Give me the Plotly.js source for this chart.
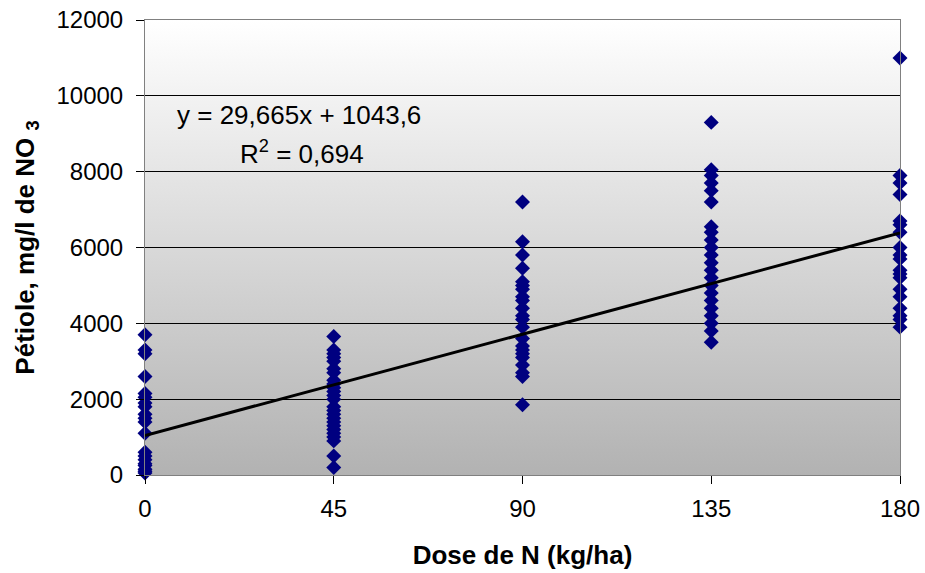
<!DOCTYPE html>
<html>
<head>
<meta charset="utf-8">
<script src="https://cdn.plot.ly/plotly-3.0.1.min.js"></script>
<style>html,body{margin:0;padding:0;background:#fff;}#chart{width:925px;height:573px;}</style>
</head>
<body>
<div id="chart"></div>
<script>
// Doses of N (kg/ha)
const doses = [0, 45, 90, 135, 180];
// Observed petiole NO3 values per dose (mg/l)
const dose0 = [3700, 3300, 3200, 2600, 2150, 2050, 1900, 1800, 1600, 1500, 1400, 1100, 600, 500, 400, 300, 250, 150, 100, 50];
const dose45 = [3650, 3300, 3200, 3100, 3000, 2800, 2700, 2500, 2400, 2300, 2200, 2100, 2000, 1800, 1700, 1600, 1500, 1400, 1300, 1200, 1100, 1000, 900, 500, 200];
const dose90 = [7200, 6150, 5800, 5450, 5100, 5000, 4900, 4700, 4600, 4400, 4200, 4100, 3900, 3600, 3400, 3300, 3200, 3100, 2900, 2700, 2600, 1850];
const dose135 = [9300, 8050, 7900, 7700, 7500, 7200, 6550, 6400, 6200, 6000, 5800, 5600, 5400, 5200, 5000, 4800, 4600, 4400, 4200, 4000, 3800, 3500];
const dose180 = [11000, 7900, 7700, 7400, 6700, 6600, 6400, 6000, 5800, 5700, 5400, 5300, 5200, 4900, 4700, 4400, 4200, 4100, 3900];
// Linear trend coefficients
const slope = 29.665;
const intercept = 1043.6;
const r2Text = "0,694";
const eqText = "y = 29,665x + 1043,6";
const yTicks = [0, 2000, 4000, 6000, 8000, 10000, 12000];

const groups = [dose0, dose45, dose90, dose135, dose180];
const px = [], py = [];
groups.forEach((g, i) => g.forEach(v => { px.push(doses[i]); py.push(v); }));

const lineX = [doses[0], doses[doses.length - 1]];
const lineY = lineX.map(x => slope * x + intercept);

const grad = 'data:image/svg+xml;base64,' + btoa(
  '<svg xmlns="http://www.w3.org/2000/svg" width="100" height="100" preserveAspectRatio="none">' +
  '<defs><linearGradient id="g" x1="0" y1="0" x2="0" y2="1">' +
  '<stop offset="0" stop-color="#ffffff"/><stop offset="1" stop-color="#b2b2b2"/>' +
  '</linearGradient></defs><rect width="100" height="100" fill="url(#g)"/></svg>');

const font = 'Liberation Sans, Arial, sans-serif';

const data = [
  {x: px, y: py, type: 'scatter', mode: 'markers',
   marker: {symbol: 'diamond', size: 11.5, color: '#000080'}, hoverinfo: 'x+y', cliponaxis: false},
  {x: lineX, y: lineY, type: 'scatter', mode: 'lines',
   line: {color: '#000000', width: 3}, cliponaxis: false}
];

const layout = {
  width: 925, height: 573,
  margin: {l: 145, r: 25, t: 20, b: 98},
  paper_bgcolor: '#ffffff',
  plot_bgcolor: 'rgba(0,0,0,0)',
  showlegend: false,
  font: {family: font, size: 24, color: '#000'},
  xaxis: {
    range: [0, 180], tickvals: doses, ticktext: doses.map(String),
    ticks: 'outside', ticklen: 8, tickcolor: '#000', tickwidth: 1,
    showgrid: false, zeroline: false,
    showline: true, linecolor: '#808080', linewidth: 1, mirror: true,
    tickfont: {family: font, size: 24},
    ticklabelstandoff: 4,
    title: {text: '<b>Dose de N (kg/ha)</b>', font: {family: font, size: 26}, standoff: 25}
  },
  yaxis: {
    range: [0, 12000], tickvals: yTicks, ticktext: yTicks.map(String),
    ticks: 'outside', ticklen: 8, tickcolor: '#000', tickwidth: 1,
    showgrid: true, gridcolor: '#000000', gridwidth: 1, zeroline: false,
    showline: true, linecolor: '#808080', linewidth: 1, mirror: true,
    tickfont: {family: font, size: 24},
    ticklabelstandoff: 8,
    title: {text: '<b>Pétiole, mg/l de NO <sub>3</sub></b>', font: {family: font, size: 26}, standoff: 14}
  },
  images: [{source: grad, xref: 'paper', yref: 'paper', x: 0, y: 1, sizex: 1, sizey: 1,
            sizing: 'stretch', layer: 'below', xanchor: 'left', yanchor: 'top'}],
  annotations: [
    {xref: 'paper', yref: 'paper', x: 0.040, y: 0.791, xanchor: 'left', yanchor: 'middle',
     text: eqText, showarrow: false, font: {family: font, size: 26}},
    {xref: 'paper', yref: 'paper', x: 0.123, y: 0.708, xanchor: 'left', yanchor: 'middle',
     text: 'R<sup>2</sup> = ' + r2Text, showarrow: false, font: {family: font, size: 26}}
  ]
};

Plotly.newPlot('chart', data, layout, {displayModeBar: false, staticPlot: true});
</script>
</body>
</html>
